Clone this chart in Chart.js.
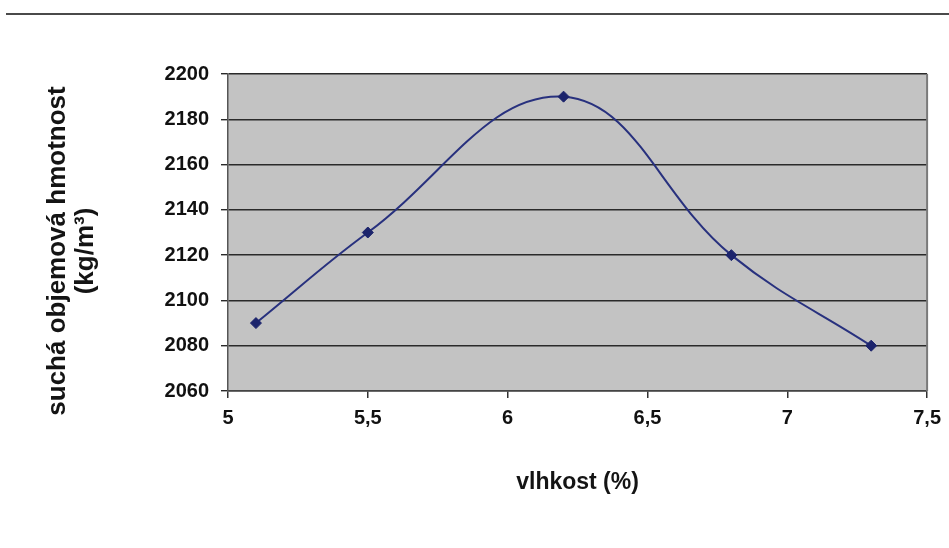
<!DOCTYPE html>
<html><head><meta charset="utf-8">
<script src="https://cdn.jsdelivr.net/npm/chart.js@4"></script>
<style>
html,body{margin:0;padding:0;background:#fff;width:949px;height:548px;overflow:hidden}
#wrap{position:relative;width:949px;height:548px}
#rule{position:absolute;left:6px;right:0;top:13px;height:2px;background:#4a4a4a}
canvas{position:absolute;left:0;top:0}
</style></head>
<body><div id="wrap"><div id="rule"></div><canvas id="c" width="949" height="548"></canvas></div>
<script>
const moisture = [5.1, 5.5, 6.2, 6.8, 7.3];
const density = [2090, 2130, 2190, 2120, 2080];
const xTickValues = [5, 5.5, 6, 6.5, 7, 7.5];
const yTickValues = [2060, 2080, 2100, 2120, 2140, 2160, 2180, 2200];
const xTitle = 'vlhkost (%)';
const yTitleLines = ['suchá objemová hmotnost', '(kg/m³)'];

const FONT = '"Liberation Sans", Arial, sans-serif';

const plotDecor = {
  id: 'plotDecor',
  beforeDraw(chart) {
    const {ctx, chartArea: a} = chart;
    ctx.save();
    ctx.fillStyle = '#c3c3c3';
    ctx.fillRect(a.left, a.top, a.right - a.left, a.bottom - a.top);
    ctx.restore();
  },
  beforeDatasetsDraw(chart) {
    const {ctx, chartArea: a} = chart;
    ctx.save();
    ctx.strokeStyle = '#7a7a7a';
    ctx.lineWidth = 2;
    ctx.beginPath();
    ctx.moveTo(a.right, a.top);
    ctx.lineTo(a.right, a.bottom);
    ctx.stroke();
    ctx.restore();
  },
  afterDraw(chart) {
    const {ctx} = chart;
    ctx.save();
    ctx.fillStyle = '#141414';
    ctx.font = 'bold 26px ' + FONT;
    ctx.textAlign = 'center';
    ctx.textBaseline = 'middle';
    ctx.translate(58, 251);
    ctx.rotate(-Math.PI / 2);
    yTitleLines.forEach((t, i) => ctx.fillText(t, 0, i * 28));
    ctx.restore();
  }
};

new Chart(document.getElementById('c'), {
  type: 'line',
  data: {
    datasets: [{
      data: moisture.map((x, i) => ({x, y: density[i]})),
      borderColor: '#28317e',
      borderWidth: 2,
      tension: 0.4,
      pointStyle: 'rectRot',
      pointRadius: 5.5,
      pointBackgroundColor: '#1c246c',
      pointBorderColor: '#1c246c',
      pointBorderWidth: 1,
      fill: false
    }]
  },
  options: {
    responsive: false,
    animation: false,
    devicePixelRatio: 1,
    layout: {padding: {top: 74, right: 20, left: 0, bottom: 0}},
    plugins: {legend: {display: false}, tooltip: {enabled: false}},
    scales: {
      x: {
        type: 'linear',
        min: xTickValues[0],
        max: xTickValues[xTickValues.length - 1],
        afterBuildTicks(s) { s.ticks = xTickValues.map(v => ({value: v})); },
        afterFit(s) { s.height = 157; },
        ticks: {
          padding: 8,
          color: '#111',
          font: {family: FONT, size: 20, weight: 'bold'},
          callback: v => String(v).replace('.', ',')
        },
        grid: {drawOnChartArea: false, tickLength: 7, color: '#333', lineWidth: 1.5},
        border: {color: '#444', width: 1.5},
        title: {
          display: true,
          text: xTitle,
          color: '#141414',
          font: {family: FONT, size: 23, weight: 'bold'},
          padding: {top: 0, bottom: 52}
        }
      },
      y: {
        type: 'linear',
        min: yTickValues[0],
        max: yTickValues[yTickValues.length - 1],
        afterBuildTicks(s) { s.ticks = yTickValues.map(v => ({value: v})); },
        afterFit(s) { s.width = 228; },
        ticks: {
          padding: 12,
          color: '#111',
          font: {family: FONT, size: 20, weight: 'bold'},
          callback: v => String(v)
        },
        grid: {color: '#2a2a2a', lineWidth: 1.4, tickLength: 7},
        border: {color: '#555', width: 1.5}
      }
    }
  },
  plugins: [plotDecor]
});
</script>
</body></html>
